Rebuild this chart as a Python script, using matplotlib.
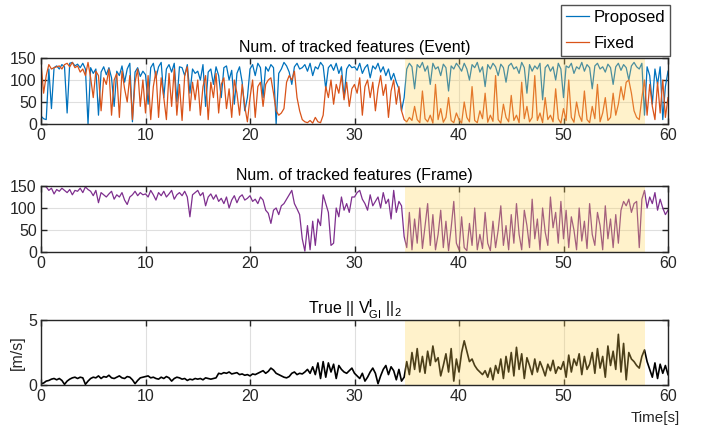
import numpy as np
import matplotlib
matplotlib.use("Agg")
import matplotlib.pyplot as plt

plt.rcParams['font.family'] = ['Liberation Sans', 'DejaVu Sans']
plt.rcParams['mathtext.fontset'] = 'custom'
plt.rcParams['mathtext.rm'] = 'Liberation Sans'
plt.rcParams['mathtext.it'] = 'Liberation Sans'
plt.rcParams['mathtext.bf'] = 'Liberation Sans:bold'

# ---------------- data (0.25 s steps, 0..60 s) ----------------
time_step = 0.25
proposed = [
    18, 12, 10, 125, 35, 128, 132, 125, 135, 130, 25, 138, 140, 132, 136, 128, 138, 125, 0, 128,
    115, 125, 20, 118, 130, 112, 128, 105, 40, 120, 110, 132, 95, 125, 138, 5, 118, 128, 108, 120,
    112, 45, 128, 138, 105, 130, 140, 60, 125, 135, 118, 138, 50, 130, 128, 110, 135, 70, 125, 115,
    120, 100, 135, 40, 118, 125, 90, 130, 110, 60, 128, 132, 100, 122, 45, 115, 130, 95, 30, 60,
    125, 135, 110, 138, 128, 60, 130, 120, 135, 128, 0, 115, 125, 140, 132, 118, 90, 130, 138, 125,
    128, 135, 120, 138, 110, 130, 125, 140, 132, 80, 128, 135, 122, 138, 115, 130, 60, 125, 135, 128,
    130, 122, 138, 115, 128, 135, 105, 132, 125, 138, 118, 130, 110, 125, 100, 115, 95, 80, 30, 60,
    125, 138, 130, 80, 135, 128, 140, 120, 132, 90, 138, 125, 130, 110, 136, 128, 75, 132, 125, 138,
    130, 120, 138, 125, 100, 135, 128, 140, 118, 130, 85, 135, 125, 138, 130, 110, 136, 128, 95, 132,
    138, 125, 130, 115, 140, 128, 70, 135, 120, 132, 125, 138, 55, 128, 135, 120, 130, 100, 138, 125,
    60, 132, 128, 138, 115, 130, 125, 140, 120, 135, 128, 80, 132, 138, 125, 130, 118, 136, 128, 90,
    130, 138, 122, 135, 128, 100, 132, 140, 130, 125, 138, 20, 130, 110, 45, 125, 90, 130, 10, 85,
    120,
]
fixed = [
    140, 70, 110, 135, 125, 128, 130, 132, 125, 135, 138, 130, 140, 128, 132, 118, 125, 110, 140, 105,
    60, 120, 110, 30, 105, 90, 125, 20, 100, 115, 15, 120, 80, 50, 110, 10, 95, 125, 40, 100,
    25, 110, 10, 85, 120, 15, 105, 60, 10, 115, 40, 125, 20, 90, 8, 110, 130, 30, 95, 55,
    100, 20, 85, 110, 10, 95, 60, 115, 25, 90, 105, 35, 80, 15, 100, 70, 20, 90, 40, 5,
    60, 100, 15, 85, 95, 40, 90, 100, 105, 70, 30, 20, 25, 35, 95, 110, 100, 120, 60, 30,
    10, 5, 3, 8, 2, 15, 5, 3, 20, 85, 60, 100, 45, 90, 70, 110, 55, 95, 40, 80,
    90, 70, 105, 20, 85, 100, 60, 95, 30, 80, 110, 65, 90, 15, 75, 100, 45, 85, 30, 10,
    5, 15, 8, 40, 10, 3, 75, 12, 5, 20, 2, 90, 10, 35, 4, 15, 60, 8, 3, 25,
    10, 2, 50, 15, 5, 85, 8, 3, 30, 12, 70, 4, 20, 6, 110, 10, 2, 45, 15, 5,
    65, 8, 20, 3, 95, 12, 40, 5, 15, 110, 8, 25, 3, 60, 10, 20, 5, 80, 12, 2,
    35, 8, 100, 15, 4, 50, 20, 6, 75, 10, 3, 40, 12, 90, 5, 25, 60, 8, 15, 70,
    20, 45, 85, 55, 95, 100, 70, 30, 15, 10, 60, 100, 20, 90, 40, 10, 95, 25, 100, 15,
    60,
]
frame = [
    150, 150, 148, 140, 145, 132, 142, 138, 145, 140, 135, 142, 130, 140, 138, 145, 135, 148, 142, 138,
    128, 140, 112, 135, 130, 125, 132, 138, 120, 130, 125, 135, 118, 108, 125, 130, 138, 128, 135, 130,
    132, 125, 140, 130, 118, 135, 128, 138, 125, 132, 140, 120, 130, 135, 128, 138, 125, 80, 130, 135,
    140, 128, 135, 105, 125, 132, 120, 130, 115, 122, 110, 125, 100, 118, 128, 112, 125, 130, 118, 122,
    128, 115, 120, 110, 125, 118, 95, 88, 65, 95, 100, 85, 105, 110, 120, 130, 140, 110, 98, 85,
    30, 2, 60, 5, 70, 15, 75, 60, 130, 110, 90, 15, 20, 100, 80, 125, 95, 110, 90, 125,
    125, 135, 140, 120, 110, 95, 130, 105, 115, 125, 100, 135, 110, 120, 75, 140, 90, 115, 105, 35,
    10, 90, 5, 75, 20, 100, 8, 60, 110, 15, 85, 5, 40, 95, 10, 70, 3, 55, 115, 20,
    5, 80, 10, 3, 65, 15, 100, 5, 40, 8, 90, 20, 3, 70, 10, 50, 105, 15, 60, 5,
    85, 20, 110, 40, 5, 95, 60, 10, 120, 30, 75, 5, 100, 45, 15, 125, 55, 90, 20, 115,
    30, 95, 10, 80, 50, 5, 100, 25, 70, 8, 110, 40, 15, 90, 60, 5, 105, 30, 75, 10,
    85, 20, 95, 115, 105, 120, 90, 110, 115, 10, 120, 140, 100, 125, 110, 135, 95, 120, 100, 85,
    95,
]
velocity = [
    0.1, 0.15, 0.3, 0.35, 0.45, 0.5, 0.4, 0.5, 0.35, 0.05, 0.3, 0.45, 0.55, 0.6, 0.5, 0.6, 0.55, 0.05, 0.3, 0.5,
    0.6, 0.55, 0.7, 0.5, 0.65, 0.6, 0.75, 0.55, 0.5, 0.6, 0.7, 0.55, 0.5, 0.65, 0.6, 0.4, 0.1, 0.35, 0.55, 0.6,
    0.65, 0.7, 0.55, 0.6, 0.5, 0.45, 0.6, 0.5, 0.65, 0.55, 0.3, 0.5, 0.6, 0.55, 0.45, 0.5, 0.35, 0.45, 0.4, 0.5,
    0.45, 0.5, 0.4, 0.55, 0.5, 0.45, 0.5, 0.55, 0.9, 0.85, 0.95, 0.9, 1.0, 0.85, 0.9, 0.95, 0.8, 0.85, 0.75, 0.8,
    0.7, 0.85, 0.8, 0.9, 1.0, 1.1, 0.9, 1.05, 1.3, 1.15, 0.9, 0.8, 0.7, 0.6, 0.55, 0.65, 0.9, 1.0, 0.8, 0.9,
    0.85, 1.0, 1.2, 0.9, 1.4, 0.8, 1.7, 0.5, 1.8, 0.6, 1.7, 1.0, 1.6, 0.5, 1.5, 1.2, 1.0, 0.9, 1.1, 1.3,
    0.9, 0.7, 0.5, 0.9, 0.3, 0.6, 1.0, 1.3, 0.9, 0.1, 0.7, 1.2, 1.5, 0.8, 1.4, 1.1, 0.4, 1.2, 0.3, 0.6,
    1.8, 0.8, 2.5, 1.2, 2.8, 1.0, 2.2, 0.9, 2.6, 1.5, 3.0, 1.8, 2.1, 0.7, 1.5, 2.4, 1.0, 2.8, 0.3, 2.0,
    1.0, 2.5, 3.4, 2.6, 1.8, 2.0, 1.5, 1.2, 1.0, 0.8, 1.1, 0.6, 1.3, 0.4, 1.5, 0.9, 2.0, 0.5, 2.2, 1.0,
    2.5, 0.7, 2.9, 1.2, 2.4, 0.5, 2.1, 1.5, 0.8, 2.0, 1.0, 1.8, 1.3, 0.7, 1.6, 1.1, 1.9, 0.9, 1.4, 1.2,
    1.8, 0.6, 2.3, 1.0, 2.0, 1.5, 2.4, 0.8, 2.2, 1.2, 1.6, 2.5, 0.9, 2.8, 1.3, 2.2, 0.6, 3.0, 1.5, 2.6,
    1.2, 3.9, 1.0, 3.2, 0.4, 2.5, 2.0, 1.8, 1.5, 1.3, 2.2, 2.7, 1.8, 1.2, 0.6, 1.7, 0.5, 1.6, 0.9, 1.5,
    0.8,
]
shade_span = [34.8, 57.8]
x_ticks = [0, 10, 20, 30, 40, 50, 60]
count_ticks = [0, 50, 100, 150]
vel_ticks = [0, 5]

t = np.arange(len(proposed)) * time_step

# ---------------- figure ----------------
W, H = 701, 428
fig = plt.figure(figsize=(W / 100, H / 100), dpi=100)

def rect(x0, y0, x1, y1):
    return [x0 / W, 1 - y1 / H, (x1 - x0) / W, (y1 - y0) / H]

ax1 = fig.add_axes(rect(41, 58, 668, 124))
ax2 = fig.add_axes(rect(41, 186, 668, 252))
ax3 = fig.add_axes(rect(41, 320, 668, 385))

blue = '#0072BD'
orange = '#D95319'
purple = '#7E2F8E'
shade = '#FFD455'
txt = '#262626'

l1, = ax1.plot(t, proposed, color=blue, lw=0.9, label='Proposed')
l2, = ax1.plot(t, fixed, color=orange, lw=0.9, label='Fixed')
ax2.plot(t, frame, color=purple, lw=0.9)
ax3.plot(t, velocity, color='black', lw=1.2)

for ax, yt, ylim in [(ax1, count_ticks, (0, 150)), (ax2, count_ticks, (0, 150)), (ax3, vel_ticks, (0, 5))]:
    ax.axvspan(shade_span[0], shade_span[1], color=shade, alpha=0.3, lw=0, zorder=3)
    ax.set_xlim(0, 60)
    ax.set_ylim(*ylim)
    ax.set_xticks(x_ticks)
    ax.set_yticks(yt)
    ax.grid(True, color='#DFDFDF', lw=0.8)
    ax.set_axisbelow(True)
    ax.tick_params(direction='in', top=True, right=True, length=4, width=1.0,
                   labelsize=11.5, colors=txt, pad=3)
    for s in ax.spines.values():
        s.set_color(txt)
        s.set_linewidth(1.0)
        s.set_zorder(5)

ax1.set_title('Num. of tracked features (Event)', fontsize=11.5, color='black', pad=4)
ax2.set_title('Num. of tracked features (Frame)', fontsize=11.5, color='black', pad=4)
ax3.set_title(r'True || V$_{\rm GI}^{\mathbf{I}}$ ||$_{\rm 2}$', fontsize=11.5, color='black', pad=4)
ax3.set_ylabel('[m/s]', fontsize=11.5, color=txt, labelpad=2)
fig.text(655 / W, 1 - 418 / H, 'Time[s]', fontsize=11, color=txt, ha='center', va='center')

leg = fig.legend(handles=[l1, l2], loc='upper right', bbox_to_anchor=(670 / W, 1 - 5 / H),
                 fontsize=12, frameon=True, fancybox=False, borderpad=0.3,
                 handlelength=1.4, handletextpad=0.25, labelspacing=0.65, borderaxespad=0)
leg.get_frame().set_edgecolor(txt)
leg.get_frame().set_linewidth(1.0)

fig.savefig('out.png', dpi=100)
